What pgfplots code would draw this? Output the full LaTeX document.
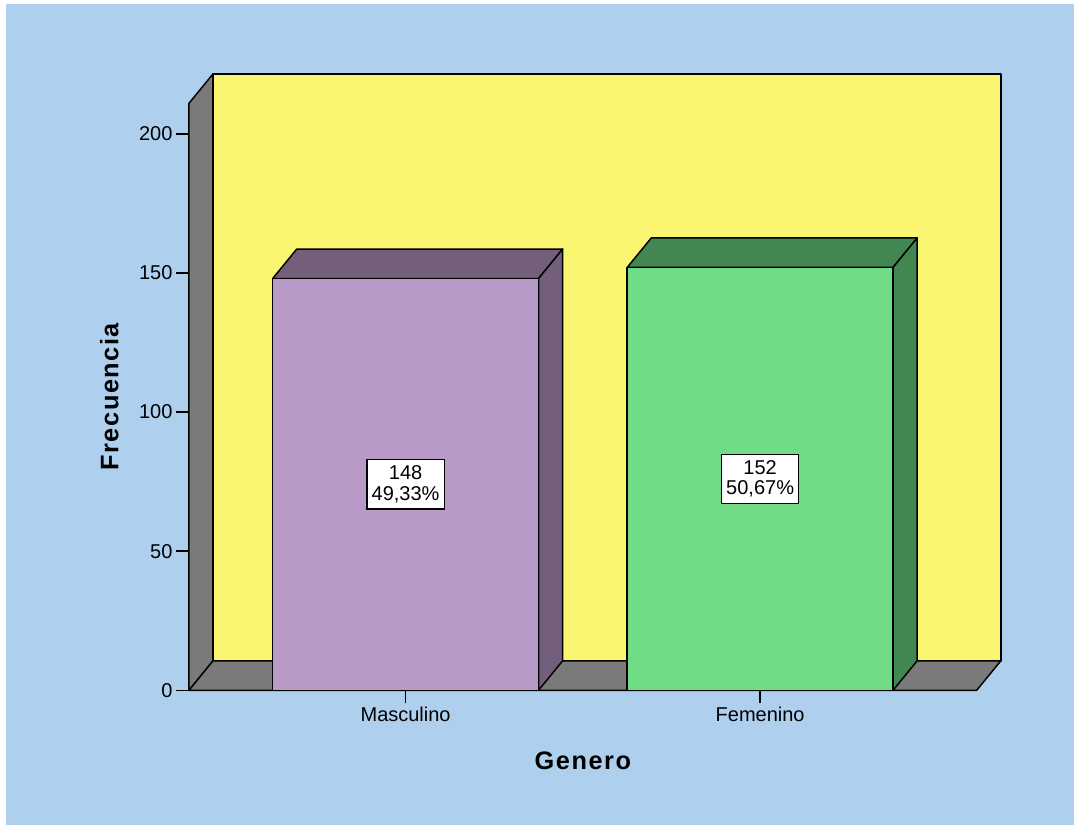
\documentclass[border=0pt]{standalone}
\usepackage{fontspec}
\setmainfont{Liberation Sans}
\newfontfamily\spacedfont[LetterSpace=6]{Liberation Sans}
\usepackage{pgfplots}
\pgfplotsset{compat=1.18}

\definecolor{chartbg}{RGB}{174,208,238}
\definecolor{wallgray}{RGB}{122,122,122}
\definecolor{backwall}{RGB}{250,246,114}
\definecolor{mascfront}{RGB}{184,154,200}
\definecolor{mascdark}{RGB}{115,95,123}
\definecolor{femfront}{RGB}{112,220,134}
\definecolor{femdark}{RGB}{66,134,82}

\begin{document}
\begin{tikzpicture}
% page and chart background (1px = 0.75pt)
\path[use as bounding box] (-141.75pt,-101pt) rectangle (663.75pt,517.7pt);
\fill[white] (-141.75pt,-101pt) rectangle (663.75pt,517.7pt);
\fill[chartbg] (-137.25pt,-101pt) rectangle (663.75pt,514.7pt);
\begin{axis}[
  at={(0pt,0pt)}, anchor=south west,
  scale only axis,
  width=590.8pt, height=440.25pt,
  xmin=-0.611, xmax=1.611,
  ymin=0, ymax=211,
  clip=false,
  axis x line*=bottom, axis y line*=left,
  axis line style={black, line width=1.1pt, -},
  xtick={0,1},
  xticklabels={Masculino,Femenino},
  ytick={0,50,100,150,200},
  tick align=outside,
  major tick length=9.75pt,
  major tick style={black, line width=1.1pt},
  tick label style={font=\fontsize{15}{18}\selectfont},
  yticklabel style={inner xsep=2.5pt},
  xticklabel style={inner ysep=2.5pt},
  /pgf/number format/assume math mode=true,
  every axis y label/.style={at={(axis description cs:-0.0898,0.5)}, rotate=90, anchor=base},
  every axis x label/.style={at={(axis description cs:0.5,-0.1358)}, anchor=base},
  label style={font=\fontsize{19}{22}\selectfont\spacedfont\bfseries},
  xlabel={Genero},
  ylabel={Frecuencia},
  face/.style={draw=black, line width=1.1pt, line join=round},
]
% walls and floor
\addplot[face, fill=wallgray] coordinates {(-0.611,0) (-0.543,10.6) (-0.543,221.6) (-0.611,211)} -- cycle;
\addplot[face, fill=backwall] coordinates {(-0.543,10.6) (1.679,10.6) (1.679,221.6) (-0.543,221.6)} -- cycle;
\addplot[face, fill=wallgray] coordinates {(-0.611,0) (-0.543,10.6) (1.679,10.6) (1.611,0)} -- cycle;

% Masculino: 148
\addplot[face, fill=mascdark] coordinates {(-0.375,148) (-0.307,158.6) (0.443,158.6) (0.375,148)} -- cycle;
\addplot[face, fill=mascdark] coordinates {(0.375,0) (0.443,10.6) (0.443,158.6) (0.375,148)} -- cycle;
\addplot[face, fill=mascfront] coordinates {(-0.375,0) (-0.375,148) (0.375,148) (0.375,0)} -- cycle;

% Femenino: 152
\addplot[face, fill=femdark] coordinates {(0.625,152) (0.693,162.6) (1.443,162.6) (1.375,152)} -- cycle;
\addplot[face, fill=femdark] coordinates {(1.375,0) (1.443,10.6) (1.443,162.6) (1.375,152)} -- cycle;
\addplot[face, fill=femfront] coordinates {(0.625,0) (0.625,152) (1.375,152) (1.375,0)} -- cycle;

% count and percentage labels at half bar height
\addplot[draw=none, mark=none, point meta=explicit symbolic,
  nodes near coords, nodes near coords align={center},
  every node near coord/.append style={fill=white, draw=black, line width=1pt,
    align=center, anchor=center, inner xsep=3.5pt, inner ysep=4.5pt,
    font=\fontsize{15}{15.5}\selectfont}]
  coordinates {(0,74) [{148\\49,33\%}] (1,76) [{152\\50,67\%}]};
\end{axis}
\end{tikzpicture}
\end{document}
